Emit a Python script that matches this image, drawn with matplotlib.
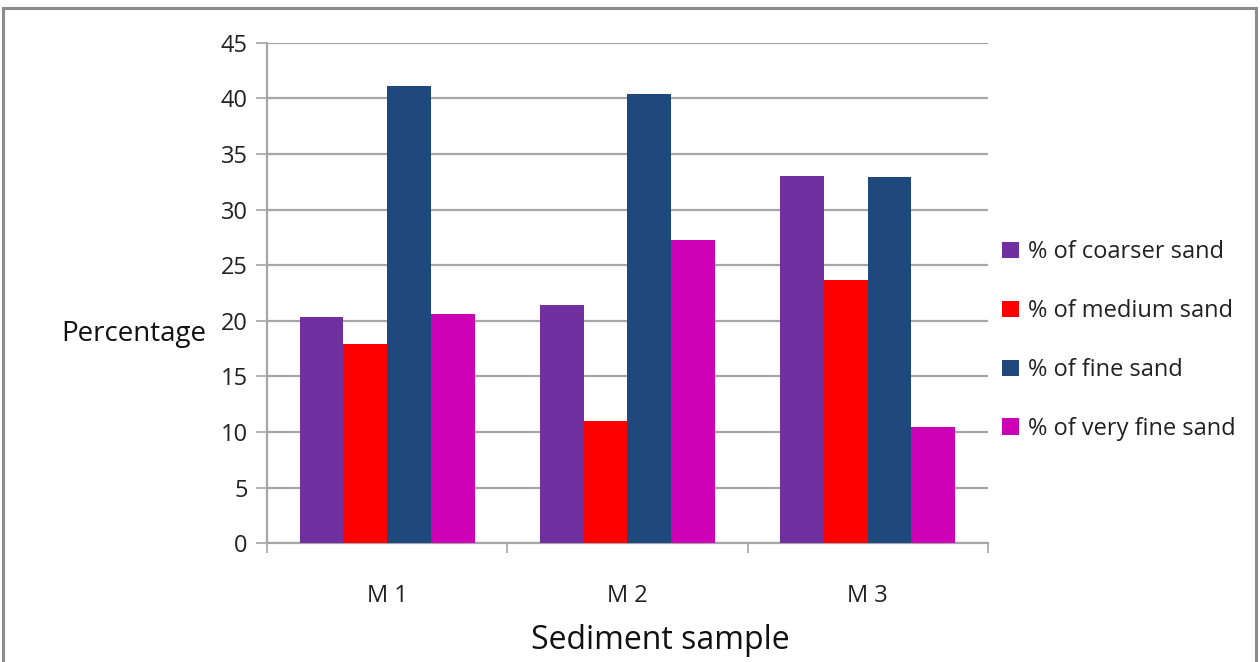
import numpy as np
import matplotlib.pyplot as plt
from matplotlib.patches import Rectangle

plt.rcParams['font.family'] = ['Open Sans', 'DejaVu Sans']

# Grain-size fractions per sediment sample
samples = ["M 1", "M 2", "M 3"]
series_names = ["% of coarser sand", "% of medium sand", "% of fine sand", "% of very fine sand"]
coarser = [20.35, 21.45, 33.05]
medium = [17.9, 11.0, 23.7]
fine = [41.15, 40.4, 32.9]
very_fine = [20.6, 27.25, 10.45]
colors = ["#7030A0", "#FF0000", "#1F497D", "#CC00B4"]

fig = plt.figure(figsize=(12.6, 6.62), dpi=100)
ax = fig.add_axes([0.2119, 0.1793, 0.5722, 0.7562])

# outer frame round the chart area
fig.patches.append(Rectangle((3 / 1260, -0.05), 1253 / 1260, 1.05 - 8 / 662,
                             transform=fig.transFigure, fill=False,
                             edgecolor="#8c8c8c", linewidth=2.2))

x = np.arange(len(samples))
w = 1 / 5.5
for i, (vals, name) in enumerate(zip([coarser, medium, fine, very_fine], series_names)):
    ax.bar(x + (i - 1.5) * w, vals, width=w, color=colors[i], label=name, zorder=3)

ax.set_xlim(-0.5, 2.5)
ax.set_ylim(0, 45)
ax.set_yticks(range(0, 46, 5))
ax.yaxis.grid(True, color="#a6a6a6", linewidth=1.6, zorder=0)

for s in ["top", "right"]:
    ax.spines[s].set_visible(False)
ax.spines["left"].set_color("#a6a6a6")
ax.spines["bottom"].set_color("#a6a6a6")
ax.spines["left"].set_linewidth(1.6)
ax.spines["bottom"].set_linewidth(1.6)

ax.set_xticks(x)
ax.set_xticklabels(samples)
ax.set_xticks([-0.5, 0.5, 1.5, 2.5], minor=True)
ax.tick_params(axis="x", which="major", length=0, pad=29, labelsize=17, labelcolor="#222222")
ax.tick_params(axis="x", which="minor", length=7, width=1.2, color="#a6a6a6")
ax.tick_params(axis="y", length=8, width=1.2, color="#a6a6a6", labelsize=17,
               labelcolor="#222222", pad=6)

ax.set_xlabel("Sediment sample", fontsize=23, color="#111111")
ax.xaxis.set_label_coords(0.545, -0.162)
ax.set_ylabel("Percentage", fontsize=20, rotation=0, color="#111111")
ax.yaxis.set_label_coords(-0.185, 0.39)

ax.legend(loc="center left", bbox_to_anchor=(0.99, 0.405), frameon=False,
          fontsize=17, handlelength=0.7, handleheight=0.7, handletextpad=0.4,
          labelspacing=1.48, labelcolor="#222222")

fig.savefig("out.png", dpi=100)
